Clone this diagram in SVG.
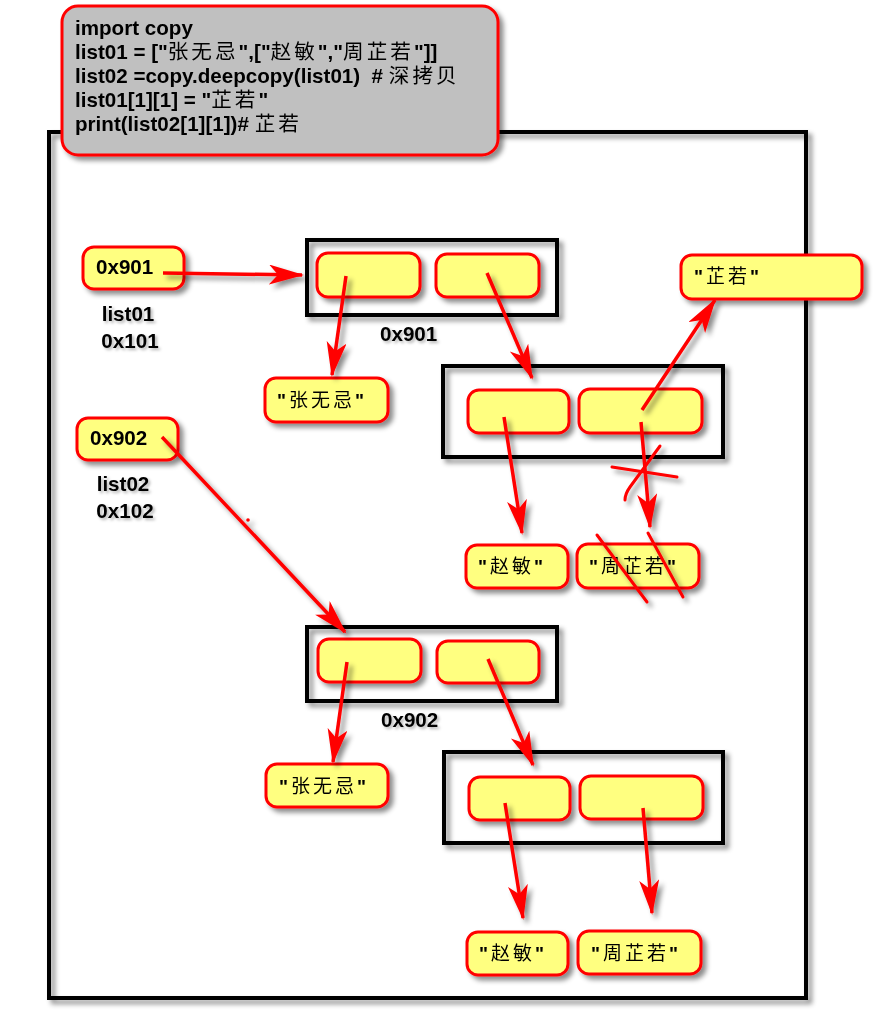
<svg xmlns="http://www.w3.org/2000/svg" width="895" height="1026" viewBox="0 0 895 1026">
<style>
.frame{fill:none;stroke:#000;stroke-width:4}
.cell{fill:#ffff80;stroke:#ff0000;stroke-width:3}
.code{fill:#c0c0c0;stroke:#ff0000;stroke-width:3}
.lbl{font-family:"Liberation Sans",Arial,"Noto Sans CJK SC",sans-serif;font-weight:bold;font-size:20.6px;fill:#000}
.cjk{font-family:"Noto Sans CJK SC","Noto Sans CJK JP",sans-serif;font-weight:normal;letter-spacing:3px}
.str{font-family:"Noto Sans CJK SC","Noto Sans CJK JP",sans-serif;font-size:19px;fill:#000;letter-spacing:3px}
.q{font-family:"Liberation Sans",Arial,sans-serif;font-weight:bold}
.conn line{stroke:#ff0000;stroke-width:3.5;fill:none;marker-end:url(#arr)}
.mark{stroke:#ff0000;stroke-width:3;fill:none;stroke-linecap:round}
</style>
<defs>
<marker id="arr" markerUnits="userSpaceOnUse" markerWidth="36" markerHeight="22" refX="33" refY="10" orient="auto">
<path d="M0,0 L35,10 L0,20 L9,10 Z" fill="#ff0000"/>
</marker>
<filter id="sh" x="-20%" y="-20%" width="150%" height="160%">
<feDropShadow dx="4" dy="4" stdDeviation="2.5" flood-color="#000" flood-opacity="0.45"/>
</filter>
<filter id="tsh" x="-10%" y="-20%" width="130%" height="160%">
<feDropShadow dx="2" dy="2" stdDeviation="1.5" flood-color="#000" flood-opacity="0.3"/>
</filter>
</defs>
<rect width="895" height="1026" fill="#fff"/>

<g id="outer-frame" filter="url(#sh)">
<rect class="frame" x="49" y="132" width="757" height="866"/>
</g>

<g id="code-box" filter="url(#sh)">
<rect class="code" x="62" y="6" width="436" height="149" rx="16"/>
<text class="lbl" x="75" y="35">import copy</text>
<text class="lbl" x="75" y="59">list01 = ["<tspan class="cjk">张无忌</tspan>",["<tspan class="cjk">赵敏</tspan>","<tspan class="cjk">周芷若</tspan>"]]</text>
<text class="lbl" x="75" y="83" xml:space="preserve">list02 =copy.deepcopy(list01)  # <tspan class="cjk">深拷贝</tspan></text>
<text class="lbl" x="75" y="107">list01[1][1] = "<tspan class="cjk">芷若</tspan>"</text>
<text class="lbl" x="75" y="131">print(list02[1][1])# <tspan class="cjk">芷若</tspan></text>
</g>

<g id="list01" filter="url(#sh)">
<rect class="cell" x="83" y="247" width="101" height="42" rx="11"/>
<text class="lbl" x="96" y="274">0x901</text>
</g>
<g id="list01-label" filter="url(#tsh)">
<text class="lbl" x="128" y="321" text-anchor="middle">list01</text>
<text class="lbl" x="130" y="348" text-anchor="middle">0x101</text>
</g>

<g id="list02" filter="url(#sh)">
<rect class="cell" x="77" y="418" width="101" height="42" rx="11"/>
<text class="lbl" x="90" y="445">0x902</text>
</g>
<g id="list02-label" filter="url(#tsh)">
<text class="lbl" x="123" y="491" text-anchor="middle">list02</text>
<text class="lbl" x="125" y="518" text-anchor="middle">0x102</text>
</g>

<g id="box-0x901" filter="url(#sh)">
<rect class="frame" x="307" y="240" width="250" height="75"/>
<rect class="cell" x="317" y="253" width="103" height="44" rx="11"/>
<rect class="cell" x="436" y="254" width="103" height="43" rx="11"/>
</g>
<g id="label-0x901" filter="url(#tsh)"><text class="lbl" x="380" y="341">0x901</text></g>

<g id="str-zwj-1" filter="url(#sh)">
<rect class="cell" x="265" y="378" width="123" height="44" rx="11"/>
<text class="str" x="277" y="407"><tspan class="q">"</tspan>张无忌<tspan class="q">"</tspan></text>
</g>

<g id="inner-box-1" filter="url(#sh)">
<rect class="frame" x="443" y="366" width="280" height="91"/>
<rect class="cell" x="468" y="390" width="101" height="43" rx="11"/>
<rect class="cell" x="579" y="389" width="123" height="44" rx="11"/>
</g>

<g id="str-zr" filter="url(#sh)">
<rect class="cell" x="681" y="255" width="181" height="44" rx="11"/>
<text class="str" x="694" y="283"><tspan class="q">"</tspan>芷若<tspan class="q">"</tspan></text>
</g>

<g id="str-zm-1" filter="url(#sh)">
<rect class="cell" x="466" y="545" width="102" height="43" rx="11"/>
<text class="str" x="478" y="573"><tspan class="q">"</tspan>赵敏<tspan class="q">"</tspan></text>
</g>

<g id="str-zzr-1" filter="url(#sh)">
<rect class="cell" x="577" y="544" width="122" height="44" rx="11"/>
<text class="str" x="589" y="573"><tspan class="q">"</tspan>周芷若<tspan class="q">"</tspan></text>
</g>

<g id="box-0x902" filter="url(#sh)">
<rect class="frame" x="307" y="627" width="250" height="74"/>
<rect class="cell" x="318" y="639" width="103" height="43" rx="11"/>
<rect class="cell" x="437" y="641" width="102" height="42" rx="11"/>
</g>
<g id="label-0x902" filter="url(#tsh)"><text class="lbl" x="381" y="727">0x902</text></g>

<g id="str-zwj-2" filter="url(#sh)">
<rect class="cell" x="266" y="764" width="122" height="43" rx="11"/>
<text class="str" x="279" y="793"><tspan class="q">"</tspan>张无忌<tspan class="q">"</tspan></text>
</g>

<g id="inner-box-2" filter="url(#sh)">
<rect class="frame" x="444" y="752" width="279" height="91"/>
<rect class="cell" x="469" y="777" width="101" height="43" rx="11"/>
<rect class="cell" x="580" y="776" width="123" height="43" rx="11"/>
</g>

<g id="str-zm-2" filter="url(#sh)">
<rect class="cell" x="467" y="932" width="101" height="43" rx="11"/>
<text class="str" x="479" y="960"><tspan class="q">"</tspan>赵敏<tspan class="q">"</tspan></text>
</g>

<g id="str-zzr-2" filter="url(#sh)">
<rect class="cell" x="578" y="931" width="123" height="43" rx="11"/>
<text class="str" x="591" y="960"><tspan class="q">"</tspan>周芷若<tspan class="q">"</tspan></text>
</g>

<g id="connectors" class="conn" filter="url(#sh)">
<line x1="163" y1="273" x2="302" y2="275"/>
<line x1="346" y1="276" x2="332" y2="375"/>
<line x1="487" y1="273" x2="532" y2="378"/>
<line x1="642" y1="410" x2="715" y2="300"/>
<line x1="504" y1="417" x2="522" y2="533"/>
<line x1="641" y1="422" x2="650" y2="527"/>
<line x1="162" y1="437" x2="345" y2="632"/>
<line x1="347" y1="662" x2="333" y2="762"/>
<line x1="488" y1="659" x2="533" y2="765"/>
<line x1="505" y1="803" x2="523" y2="918"/>
<line x1="643" y1="808" x2="652" y2="913"/>
<circle cx="248" cy="520" r="1.8" fill="#ff0000"/>
<path class="mark" d="M612,467 L677,477"/>
<path class="mark" d="M660,446 L630,487 Q625,494 625,500"/>
<path class="mark" d="M597,535 L647,602"/>
<path class="mark" d="M648,533 L683,597"/>
</g>
</svg>
